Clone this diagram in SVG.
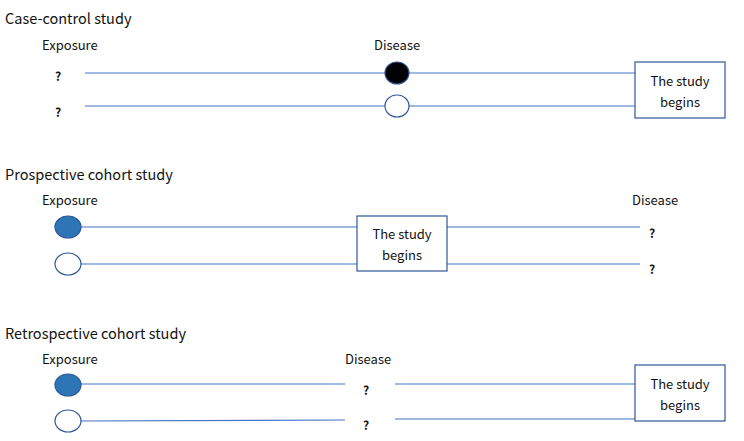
<svg xmlns="http://www.w3.org/2000/svg" width="744" height="441" viewBox="0 0 744 441">
<style>
text{font-family:"Noto Sans CJK KR","Noto Sans",sans-serif;font-size:13px;fill:#111}
.t{font-size:14.5px}
.q{font-weight:bold;font-size:12px}
.ln{stroke:#4472C4;stroke-width:1.2;fill:none}
.box{fill:#fff;stroke:#2F5597;stroke-width:1.2}
.blue{fill:#2E75B6;stroke:#2F5597;stroke-width:1.2}
.white{fill:#fff;stroke:#2F5597;stroke-width:1.2}
.blk{fill:#000;stroke:#2F5597;stroke-width:1.2}
.c{text-anchor:middle}
</style>
<rect width="744" height="441" fill="#fff"/>
<g id="connectors">
<line class="ln" x1="85" y1="73" x2="635" y2="73"/>
<line class="ln" x1="85" y1="106" x2="635" y2="106"/>
<line class="ln" x1="81" y1="227" x2="357" y2="227"/>
<line class="ln" x1="447" y1="227" x2="640" y2="227"/>
<line class="ln" x1="81" y1="264" x2="357" y2="264"/>
<line class="ln" x1="447" y1="264" x2="640" y2="264"/>
<line class="ln" x1="81" y1="384" x2="345" y2="384"/>
<line class="ln" x1="395" y1="384" x2="635" y2="384"/>
<line class="ln" x1="81" y1="421" x2="345" y2="420"/>
<line class="ln" x1="395" y1="419" x2="635" y2="419"/>
</g>
<g id="case-control">
<text class="t" x="5" y="24">Case-control study</text>
<text x="42" y="50">Exposure</text>
<text x="374" y="50">Disease</text>
<text class="q" x="55" y="81">?</text>
<text class="q" x="55" y="117">?</text>
<ellipse class="blk" cx="397" cy="73" rx="12" ry="11"/>
<ellipse class="white" cx="397" cy="106" rx="12" ry="11"/>
<g id="box1"><rect class="box" x="635" y="62" width="90" height="56"/>
<text class="c" x="680" y="86">The study</text><text class="c" x="680" y="107">begins</text></g>
</g>
<g id="prospective">
<text class="t" x="5" y="180">Prospective cohort study</text>
<text x="42" y="205">Exposure</text>
<text x="632" y="205">Disease</text>
<ellipse class="blue" cx="68" cy="227" rx="13" ry="11"/>
<ellipse class="white" cx="68" cy="264" rx="13" ry="11"/>
<g id="box2"><rect class="box" x="357" y="216" width="90" height="55"/>
<text class="c" x="402" y="239">The study</text><text class="c" x="402" y="260">begins</text></g>
<text class="q" x="649" y="238">?</text>
<text class="q" x="649" y="274">?</text>
</g>
<g id="retrospective">
<text class="t" x="5" y="339">Retrospective cohort study</text>
<text x="42" y="364">Exposure</text>
<text x="345" y="364">Disease</text>
<ellipse class="blue" cx="68" cy="385" rx="13" ry="11"/>
<ellipse class="white" cx="68" cy="421" rx="13" ry="11"/>
<text class="q" x="363" y="395">?</text>
<text class="q" x="363" y="430">?</text>
<g id="box3"><rect class="box" x="635" y="365" width="90" height="56"/>
<text class="c" x="680" y="389">The study</text><text class="c" x="680" y="410">begins</text></g>
</g>
</svg>
